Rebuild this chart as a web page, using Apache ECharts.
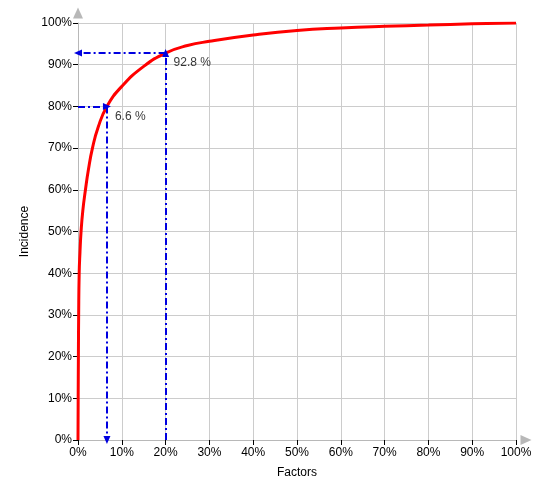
<!DOCTYPE html>
<html>
<head>
<meta charset="utf-8">
<script src="https://cdn.jsdelivr.net/npm/echarts@6/dist/echarts.min.js"></script>
<style>
html,body{margin:0;padding:0;background:#fff;}
#main{width:550px;height:500px;}
</style>
</head>
<body>
<div id="main"></div>
<script>
// Data
var factors   = [0, 0.04, 0.09, 0.15, 0.27, 0.45, 0.7, 1.1, 1.7, 2.4, 3.3, 4.6, 6.6, 10, 15, 20, 25, 30, 40, 50, 60, 70, 80, 90, 100];
var incidence = [0, 10, 20, 30, 40, 45, 50, 55, 60, 65, 70, 75, 80, 84.8, 89.6, 92.8, 94.6, 95.6, 97.1, 98.2, 98.8, 99.2, 99.5, 99.8, 100];
var guideX = [6.6, 20];
var guideY = [80, 92.8];
var guideLabels = ['6.6 %', '92.8 %'];
var xAxisName = 'Factors';
var yAxisName = 'Incidence';

var curve = factors.map(function (f, i) { return [f, incidence[i]]; });
var labelPts = guideX.map(function (x, i) { return { value: [x, guideY[i]], label: { formatter: guideLabels[i] } }; });

var FONT = 'Liberation Sans, Arial, sans-serif';
var chart = echarts.init(document.getElementById('main'), null, { renderer: 'canvas' });
chart.setOption({
  animation: false,
  backgroundColor: '#fff',
  textStyle: { fontFamily: FONT },
  grid: { left: 78, right: 34, top: 23, bottom: 60, containLabel: false },
  xAxis: {
    type: 'value', min: 0, max: 100, interval: 10,
    name: xAxisName, nameLocation: 'middle', nameGap: 27,
    nameTextStyle: { color: '#000', fontSize: 12, fontFamily: FONT },
    axisLine: { show: true, symbol: ['none', 'triangle'], symbolSize: [10, 11], symbolOffset: [0, 10], lineStyle: { color: '#b8b8b8', width: 1 } },
    axisTick: { show: true, length: 5, lineStyle: { color: '#000' } },
    axisLabel: { formatter: '{value}%', color: '#000', fontSize: 12, margin: 7, fontFamily: FONT },
    splitLine: { show: true, lineStyle: { color: '#cccccc', width: 1 } }
  },
  yAxis: {
    type: 'value', min: 0, max: 100, interval: 10,
    name: yAxisName, nameLocation: 'middle', nameGap: 41,
    nameTextStyle: { color: '#000', fontSize: 12, fontFamily: FONT },
    axisLine: { show: true, symbol: ['none', 'triangle'], symbolSize: [10, 11], symbolOffset: [0, 10], lineStyle: { color: '#b8b8b8', width: 1 } },
    axisTick: { show: true, length: 5, lineStyle: { color: '#000' } },
    axisLabel: { formatter: '{value}%', color: '#000', fontSize: 12, margin: 6, fontFamily: FONT },
    splitLine: { show: true, lineStyle: { color: '#cccccc', width: 1 } }
  },
  series: [
    {
      type: 'line',
      data: curve,
      smooth: 0.5,
      showSymbol: false,
      symbol: 'none',
      lineStyle: { color: '#ff0000', width: 3 },
      z: 3
    },
    {
      type: 'line',
      data: [],
      markLine: {
        silent: true,
        symbol: ['none', 'triangle'],
        symbolSize: [7, 8],
        label: { show: false },
        lineStyle: { color: '#0000e0', width: 2, type: [7, 3, 2, 3] },
        data: [
          [{ coord: [0, guideY[0]] }, { coord: [guideX[0], guideY[0]] }],
          [{ coord: [guideX[0], guideY[0]] }, { coord: [guideX[0], 0] }],
          [{ coord: [guideX[1], 0] }, { coord: [guideX[1], guideY[1]] }],
          [{ coord: [guideX[1], guideY[1]] }, { coord: [0, guideY[1]] }]
        ]
      },
      z: 4
    },
    {
      type: 'scatter',
      data: labelPts,
      symbolSize: 0,
      silent: true,
      label: { show: true, position: [8, 4], color: '#000', fontSize: 12, fontFamily: FONT, align: 'left', verticalAlign: 'top' },
      z: 5
    }
  ]
});
</script>
</body>
</html>
